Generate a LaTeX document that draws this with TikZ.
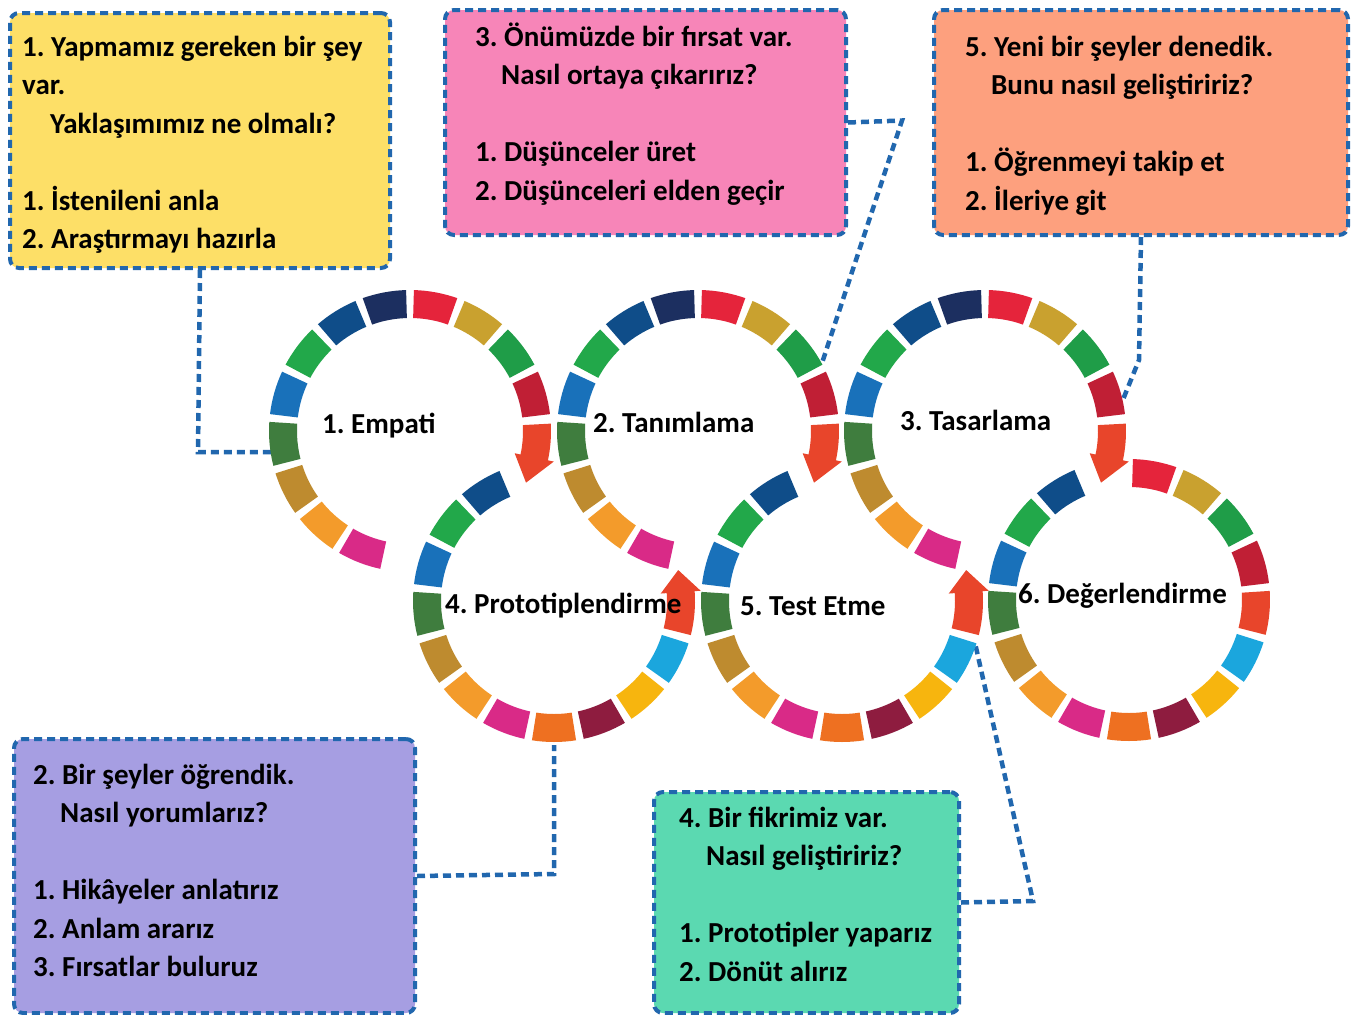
\documentclass[tikz,border=0pt]{standalone}
\usepackage{fontspec}
\setmainfont{Carlito}
\usetikzlibrary{calc}
\frenchspacing
\definecolor{s1}{HTML}{E5243B}
\definecolor{s2}{HTML}{C9A12F}
\definecolor{s3}{HTML}{1F9D48}
\definecolor{s4}{HTML}{C01F35}
\definecolor{s5}{HTML}{E8452B}
\definecolor{s6}{HTML}{1BA6DD}
\definecolor{s7}{HTML}{F7B50E}
\definecolor{s8}{HTML}{8E1C3F}
\definecolor{s9}{HTML}{EE7021}
\definecolor{s10}{HTML}{D92A87}
\definecolor{s11}{HTML}{F39B2B}
\definecolor{s12}{HTML}{BE8B2F}
\definecolor{s13}{HTML}{3F7D3E}
\definecolor{s14}{HTML}{1971BA}
\definecolor{s15}{HTML}{22A84A}
\definecolor{s16}{HTML}{0F4D89}
\definecolor{s17}{HTML}{1C2F60}
\definecolor{bordc}{HTML}{2167AE}
\definecolor{fyel}{HTML}{FDDF67}
\definecolor{fpink}{HTML}{F785B8}
\definecolor{fsalm}{HTML}{FDA07E}
\definecolor{flav}{HTML}{A69EE2}
\definecolor{fmint}{HTML}{5BD9B1}
\def\Ro{141pt}
\def\Ri{113pt}
\newcommand{\ringsegs}[1]{%
  \foreach \k in {#1} {%
    \pgfmathsetmacro{\ma}{90-(\k-0.5)*360/17}%
    \pgfmathsetmacro{\sa}{\ma+9}%
    \pgfmathsetmacro{\ea}{\ma-9}%
    \fill[s\k] (\sa:\Ro) arc[start angle=\sa, end angle=\ea, radius=\Ro] -- (\ea:\Ri) arc[start angle=\ea, end angle=\sa, radius=\Ri] -- cycle;
  }}
\newcommand{\cwarrow}{%
  \fill[s5] (3:\Ro) arc[start angle=3, end angle=-12, radius=\Ro] -- (-12:147pt) -- (-24:127pt) -- (-12:107pt) -- (-12:\Ri) arc[start angle=-12, end angle=3, radius=\Ri] -- cycle;}
\newcommand{\ccwarrow}{%
  \fill[s5] (-14:\Ro) arc[start angle=-14, end angle=4, radius=\Ro] -- (4:147pt) -- (14:128pt) -- (4:107pt) -- (4:\Ri) arc[start angle=4, end angle=-14, radius=\Ri] -- cycle;}
\begin{document}
\begin{tikzpicture}[x=1pt,y=1pt,
  box/.style={draw=bordc, line width=4pt, dash pattern=on 8pt off 5pt, rounded corners=9pt, inner sep=0pt, anchor=north west},
  conn/.style={draw=bordc, line width=4.5pt, dash pattern=on 8pt off 5pt},
  txt/.style={font=\fontsize{29}{38.5}\selectfont\bfseries, align=left, inner sep=0pt, anchor=north west},
  lbl/.style={font=\fontsize{29}{35}\selectfont\bfseries, inner sep=0pt, anchor=base west}]
\useasboundingbox (0,0) rectangle (1358,-1015);
\fill[white] (0,0) rectangle (1358,-1015);
% boxes
\node[box, fill=fyel, minimum width=380pt, minimum height=255pt] (boxA) at (8,-11) {};
\node[box, fill=fpink, minimum width=401pt, minimum height=225pt] (boxB) at (443,-8) {};
\node[box, fill=fsalm, minimum width=414pt, minimum height=225pt] (boxC) at (932,-8) {};
\node[box, fill=flav, minimum width=401pt, minimum height=274pt] (boxD) at (12,-737) {};
\node[box, fill=fmint, minimum width=305pt, minimum height=221pt] (boxE) at (652,-790) {};
% ring centres
\coordinate (c1) at (410,-431);
\coordinate (c2) at (698,-431);
\coordinate (c3) at (985,-431);
\coordinate (c4) at (554,-601);
\coordinate (c5) at (842,-601);
\coordinate (c6) at (1129,-600);
% connectors
\coordinate (a1) at (198,-452); \coordinate (a2) at (272,-452);
\coordinate (b1) at (902,-120.5); \coordinate (b2) at (822,-363);
\coordinate (k1) at (1139,-360); \coordinate (k2) at (1122,-402);
\coordinate (d1) at (554,-874); \coordinate (d2) at (554,-745);
\coordinate (e1) at (1033,-901); \coordinate (e2) at (975,-643);
\draw[conn] (boxA.south) -- (a1) -- (a2);
\draw[conn] (boxB.east) -- (b1) -- (b2);
\draw[conn] (boxC.south) -- (k1) -- (k2);
\draw[conn] (boxD.east) -- (d1) -- (d2);
\draw[conn] (boxE.east) -- (e1) -- (e2);
% rings
\begin{scope}[shift={(c1)}]\ringsegs{1,2,3,4,10,11,12,13,14,15,16,17}\cwarrow\end{scope}
\begin{scope}[shift={(c2)}]\ringsegs{1,2,3,4,10,11,12,13,14,15,16,17}\cwarrow\end{scope}
\begin{scope}[shift={(c3)}]\ringsegs{1,2,3,4,10,11,12,13,14,15,16,17}\cwarrow\end{scope}
\begin{scope}[shift={(c4)}]\ringsegs{6,7,8,9,10,11,12,13,14,15,16}\ccwarrow\end{scope}
\begin{scope}[shift={(c5)}]\ringsegs{6,7,8,9,10,11,12,13,14,15,16}\ccwarrow\end{scope}
\begin{scope}[shift={(c6)}]\ringsegs{1,2,3,4,5,6,7,8,9,10,11,12,13,14,15,16}\end{scope}
% ring labels
\node[lbl] (l1) at (322,-433) {1. Empati};
\node[lbl] (l2) at (593,-432) {2. Tanımlama};
\node[lbl] (l3) at (900,-430) {3. Tasarlama};
\node[lbl] (l4) at (445,-613) {4. Prototiplendirme};
\node[lbl] (l5) at (740,-615) {5. Test Etme};
\node[lbl] (l6) at (1018,-603) {6. Değerlendirme};
% box texts
\node[txt] (tA) at (22,-29) {\strut 1. Yapmamız gereken bir şey\\ var.\\ \hspace*{28pt}Yaklaşımımız ne olmalı?\\[38.5pt] 1. İstenileni anla\\ 2. Araştırmayı hazırla};
\node[txt] (tB) at (475,-19) {\strut 3. Önümüzde bir fırsat var.\\ \hspace*{26pt}Nasıl ortaya çıkarırız?\\[38.5pt] 1. Düşünceler üret\\ 2. Düşünceleri elden geçir};
\node[txt] (tC) at (965,-29) {\strut 5. Yeni bir şeyler denedik.\\ \hspace*{26pt}Bunu nasıl geliştiririz?\\[38.5pt] 1. Öğrenmeyi takip et\\ 2. İleriye git};
\node[txt] (tD) at (33,-757) {\strut 2. Bir şeyler öğrendik.\\ \hspace*{27pt}Nasıl yorumlarız?\\[38.5pt] 1. Hikâyeler anlatırız\\ 2. Anlam ararız\\ 3. Fırsatlar buluruz};
\node[txt] (tE) at (679,-800) {\strut 4. Bir fikrimiz var.\\ \hspace*{27pt}Nasıl geliştiririz?\\[38.5pt] 1. Prototipler yaparız\\ 2. Dönüt alırız};
\end{tikzpicture}
\end{document}
